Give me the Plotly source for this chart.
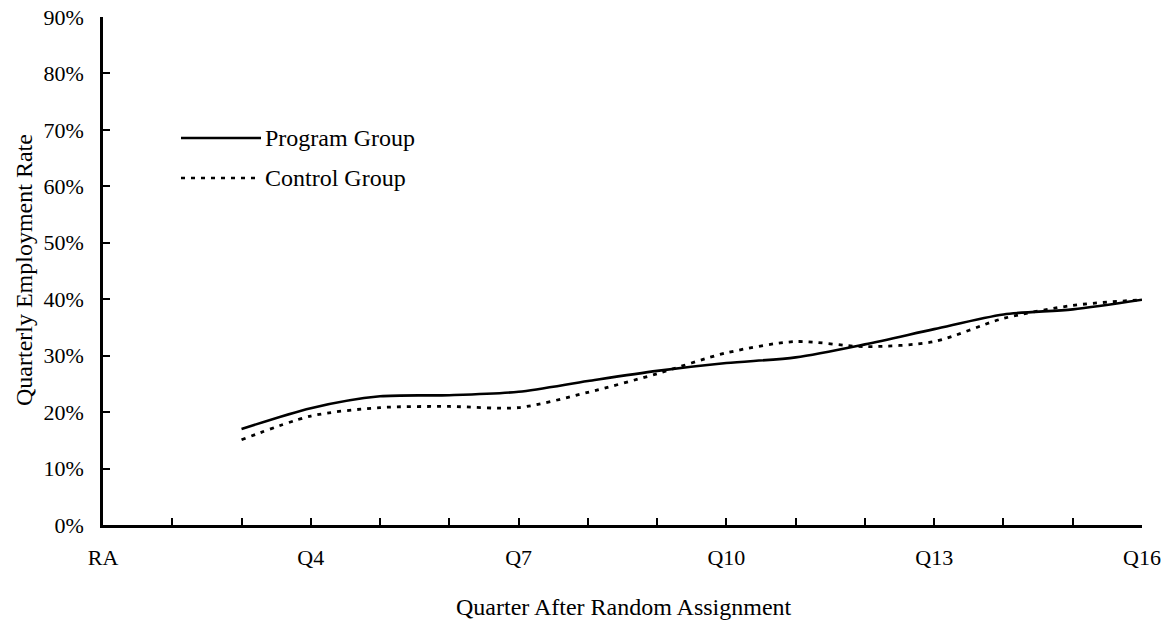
import plotly.graph_objects as go

quarters = ["RA", "Q2", "Q3", "Q4", "Q5", "Q6", "Q7", "Q8", "Q9", "Q10",
            "Q11", "Q12", "Q13", "Q14", "Q15", "Q16"]
tick_labels = ["RA", "", "", "Q4", "", "", "Q7", "", "", "Q10", "", "", "Q13", "", "", "Q16"]

data_quarters = quarters[2:]
program_group = [17.0, 20.7, 22.8, 23.0, 23.6, 25.5, 27.3, 28.7, 29.7, 32.0, 34.7, 37.3, 38.2, 39.9]
control_group = [15.1, 19.3, 20.8, 21.0, 20.8, 23.5, 26.8, 30.5, 32.5, 31.6, 32.5, 36.6, 38.9, 39.9]

y_ticks = [0, 10, 20, 30, 40, 50, 60, 70, 80, 90]
y_tick_text = [f"{v}%" for v in y_ticks]

FONT = "Liberation Serif"

FIG_W, FIG_H = 1171, 638
# plot-area edges in page pixels
L, R, T, B = 103, 1142, 17, 525
W = R - L
H = B - T
def px(x):
    return (x - L) / W
def py(y):
    return (B - y) / H

fig = go.Figure()
fig.add_trace(go.Scatter(
    x=data_quarters, y=program_group, name="Program Group", mode="lines",
    line=dict(color="black", width=2.6, shape="spline", smoothing=0.8),
    showlegend=False))
fig.add_trace(go.Scatter(
    x=data_quarters, y=control_group, name="Control Group", mode="lines",
    line=dict(color="black", width=2.8, dash="4px,6px", shape="spline", smoothing=0.8),
    showlegend=False))

legend_items = [("Program Group", None, 138), ("Control Group", "4px,6px", 178)]
for label, dash, ypix in legend_items:
    fig.add_shape(type="line", xref="paper", yref="paper",
                  x0=px(181), x1=px(261), y0=py(ypix), y1=py(ypix),
                  line=dict(color="black", width=2.6, dash=dash or "solid"))
    fig.add_annotation(xref="paper", yref="paper", x=px(263), y=py(ypix),
                       text=label, showarrow=False, xanchor="left", yanchor="middle",
                       font=dict(family=FONT, size=24, color="black"))

# axis titles
fig.add_annotation(xref="paper", yref="paper", x=px(624), y=py(607),
                   text="Quarter After Random Assignment", showarrow=False,
                   xanchor="center", yanchor="middle",
                   font=dict(family=FONT, size=24, color="black"))
fig.add_annotation(xref="paper", yref="paper", x=px(24), y=py(270),
                   text="Quarterly Employment Rate", showarrow=False, textangle=-90,
                   xanchor="center", yanchor="middle",
                   font=dict(family=FONT, size=24, color="black"))

fig.update_layout(
    width=FIG_W, height=FIG_H,
    margin=dict(l=L, r=FIG_W - R, t=T, b=FIG_H - B, autoexpand=False),
    paper_bgcolor="white", plot_bgcolor="white",
    font=dict(family=FONT, color="black"),
)
fig.update_xaxes(
    type="category", categoryorder="array", categoryarray=quarters,
    range=[0, len(quarters) - 1], automargin=False,
    tickmode="array", tickvals=quarters, ticktext=tick_labels,
    ticks="inside", ticklen=7, tickwidth=2, tickcolor="black",
    showline=True, linecolor="black", linewidth=2.5,
    showgrid=False, zeroline=False,
    tickfont=dict(family=FONT, size=22, color="black"),
    ticklabelstandoff=11, ticklabeloverflow="allow",
)
fig.update_yaxes(
    range=[0, 90], automargin=False,
    tickmode="array", tickvals=y_ticks, ticktext=y_tick_text,
    ticks="inside", ticklen=7, tickwidth=2, tickcolor="black",
    showline=True, linecolor="black", linewidth=2.5,
    showgrid=False, zeroline=False,
    tickfont=dict(family=FONT, size=22, color="black"),
    ticklabelstandoff=12, ticklabeloverflow="allow",
)

fig.write_html("out.html",
               config={"displayModeBar": False},
               post_script="document.body.style.margin='0px';document.body.style.overflow='hidden';")
